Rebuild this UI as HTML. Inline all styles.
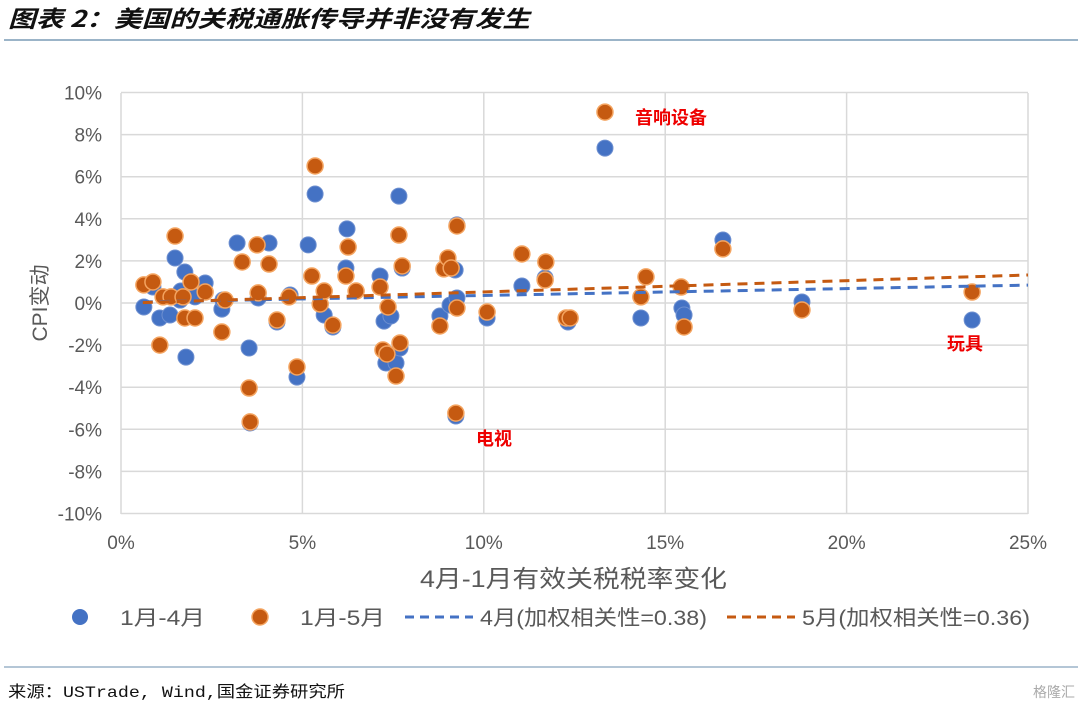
<!DOCTYPE html>
<html><head><meta charset="utf-8"><style>
body{margin:0;background:#fff;width:1080px;height:708px;overflow:hidden;font-family:"Liberation Sans","Noto Sans CJK SC",sans-serif}
</style></head><body>
<svg id="c" width="1080" height="708" xmlns="http://www.w3.org/2000/svg" font-family="Liberation Sans, Noto Sans CJK SC, sans-serif">
<text x="8" y="27" font-size="23" font-weight="bold" font-style="italic" fill="#111" textLength="522" lengthAdjust="spacingAndGlyphs" font-family="Noto Sans CJK SC, sans-serif">图表 2：美国的关税通胀传导并非没有发生</text>
<line x1="4" y1="40" x2="1078" y2="40" stroke="#9bb4c8" stroke-width="2"/>
<g id="grid"></g><g id="marks"></g>
<text transform="translate(47,303) rotate(-90)" text-anchor="middle" font-size="21" fill="#595959">CPI变动</text>
<text x="420" y="587" font-size="24" fill="#595959" textLength="307" lengthAdjust="spacingAndGlyphs">4月-1月有效关税税率变化</text>
<text x="635" y="124" font-size="18" font-weight="bold" fill="#e00">音响设备</text>
<text x="476" y="445" font-size="18" font-weight="bold" fill="#e00">电视</text>
<text x="947" y="350" font-size="18" font-weight="bold" fill="#e00">玩具</text>
<g font-size="21" fill="#595959">
<circle cx="80" cy="617" r="8" fill="#4472c4"/>
<text x="120" y="625" textLength="85" lengthAdjust="spacingAndGlyphs">1月-4月</text>
<circle cx="260" cy="617" r="8" fill="#c55a11" stroke="#f4a460" stroke-width="1.5"/>
<text x="300" y="625" textLength="85" lengthAdjust="spacingAndGlyphs">1月-5月</text>
<line x1="405" y1="617" x2="473" y2="617" stroke="#4472c4" stroke-width="3" stroke-dasharray="9,6"/>
<text x="480" y="625" textLength="227" lengthAdjust="spacingAndGlyphs">4月(加权相关性=0.38)</text>
<line x1="727" y1="617" x2="795" y2="617" stroke="#c55a11" stroke-width="3" stroke-dasharray="9,6"/>
<text x="802" y="625" textLength="228" lengthAdjust="spacingAndGlyphs">5月(加权相关性=0.36)</text>
</g>
<line x1="4" y1="667" x2="1078" y2="667" stroke="#9bb4c8" stroke-width="1.5"/>
<text x="8" y="697" font-size="16" fill="#111" textLength="337" lengthAdjust="spacingAndGlyphs" font-family="Liberation Mono, Noto Sans CJK SC, monospace">来源：USTrade, Wind,国金证券研究所</text>
<text x="1075" y="697" text-anchor="end" font-size="14" fill="#aaa">格隆汇</text>
</svg>
<script>
const xTicks=[0,5,10,15,20,25];
const yTicks=[-10,-8,-6,-4,-2,0,2,4,6,8,10];
const aprX=[0.63,0.88,1.07,1.49,1.65,1.79,1.76,2.04,2.32,2.78,3.2,3.53,3.56,3.78,4.08,4.3,4.85,5.16,5.35,5.6,5.84,6.23,6.2,7.14,7.25,7.3,7.44,7.58,7.66,7.69,7.75,8.79,9.07,9.21,9.23,9.26,9.26,10.09,11.05,11.69,12.32,13.34,14.33,15.46,15.52,16.59,18.77,23.46,1.63,1.35,2.81,4.66];
const aprY=[-0.19,0.76,-0.71,2.14,0.57,-2.57,1.47,0.29,0.95,-0.29,2.85,-2.14,-5.7,0.24,2.85,-0.9,-3.52,2.76,5.18,-0.57,-1.14,3.52,1.66,1.28,-0.86,-2.85,-0.62,-2.85,5.08,-2.14,1.66,-0.62,-0.1,1.57,-5.37,3.71,0.24,-0.71,0.81,1.19,-0.9,7.36,-0.71,-0.24,-0.57,2.99,0.05,-0.81,0.14,-0.57,0.14,0.38];
const mayX=[0.63,0.88,1.07,1.16,1.38,1.49,1.71,1.76,1.93,2.04,2.32,2.78,2.87,3.34,3.53,3.56,3.75,3.78,4.08,4.3,4.63,4.85,5.26,5.35,5.49,5.6,5.84,6.26,6.2,6.48,7.14,7.22,7.33,7.36,7.58,7.66,7.69,7.75,8.79,8.9,9.01,9.1,9.23,9.26,9.26,10.09,11.05,11.69,11.71,12.27,12.38,13.34,14.33,14.47,15.44,15.52,16.59,18.77,23.46];
const mayY=[0.86,1.0,-2.0,0.29,0.29,3.18,0.29,-0.71,1.0,-0.71,0.52,-1.38,0.14,1.95,-4.04,-5.65,2.76,0.48,1.85,-0.81,0.29,-3.04,1.28,6.51,-0.05,0.57,-1.05,2.66,1.28,0.57,0.76,-2.23,-2.42,-0.19,-3.47,3.23,-1.9,1.76,-1.09,1.62,2.14,1.66,-5.23,3.66,-0.24,-0.43,2.33,1.09,1.95,-0.71,-0.71,9.07,0.29,1.24,0.76,-1.14,2.57,-0.33,0.52];
const trendAprX=[0.6,25];const trendAprY=[0.05,0.85];
const trendMayX=[0.6,25];const trendMayY=[0.02,1.33];
const NS='http://www.w3.org/2000/svg';
const sx=v=>121+v*(1028-121)/25;
const sy=v=>303-v*(514-93)/20;
function mk(t,a,p){const e=document.createElementNS(NS,t);for(const k in a)e.setAttribute(k,a[k]);p.appendChild(e);return e;}
const grid=document.getElementById('grid'),marks=document.getElementById('marks');
yTicks.forEach(v=>{const l=mk('line',{x1:121,x2:1028,y1:sy(v),y2:sy(v),stroke:'#d9d9d9','stroke-width':1.5},grid);


const t=mk('text',{x:102,y:sy(v)+7,'text-anchor':'end','font-size':19,fill:'#595959'},grid);t.textContent=v+'%';

});
xTicks.forEach(v=>{const l=mk('line',{x1:sx(v),x2:sx(v),y1:93,y2:514,stroke:'#d9d9d9','stroke-width':1.5},grid);


const t=mk('text',{x:sx(v),y:549,'text-anchor':'middle','font-size':19,fill:'#595959'},grid);t.textContent=v+'%';

});
aprX.forEach((x,i)=>{const c=mk('circle',{cx:sx(x),cy:sy(aprY[i]),r:8,fill:'#4472c4',stroke:'#6d8fd0','stroke-width':1},marks);

});
mayX.forEach((x,i)=>{const c=mk('circle',{cx:sx(x),cy:sy(mayY[i]),r:8,fill:'#c55a11',stroke:'#f4a460','stroke-width':1.5},marks);

});
const ta=mk('line',{x1:sx(trendAprX[0]),y1:sy(trendAprY[0]),x2:sx(trendAprX[1]),y2:sy(trendAprY[1]),stroke:'#4472c4','stroke-width':3,'stroke-dasharray':'10,7'},marks);


const tm=mk('line',{x1:sx(trendMayX[0]),y1:sy(trendMayY[0]),x2:sx(trendMayX[1]),y2:sy(trendMayY[1]),stroke:'#c55a11','stroke-width':3,'stroke-dasharray':'10,7'},marks);


</script>
</body></html>
